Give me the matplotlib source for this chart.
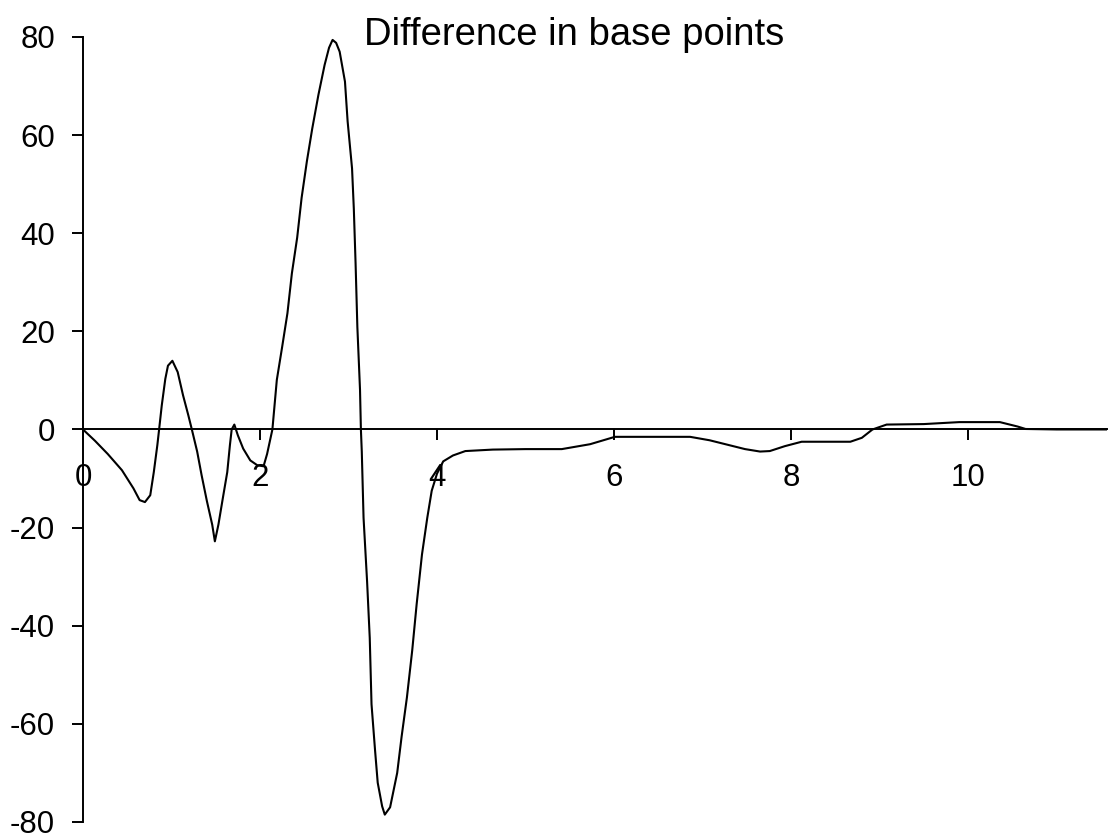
import matplotlib
matplotlib.use("Agg")
import matplotlib.pyplot as plt

plt.rcParams["font.family"] = ["Liberation Sans", "DejaVu Sans"]
plt.rcParams["axes.unicode_minus"] = False

TITLE = "Difference in base points"

# curve (x in axis units, y in base points)
pos = [
    0.00, 0.135, 0.28, 0.44, 0.57, 0.64, 0.70, 0.76, 0.80, 0.84,
    0.86, 0.89, 0.93, 0.96, 1.01, 1.07, 1.13, 1.19, 1.23, 1.29,
    1.34, 1.40, 1.46, 1.49, 1.53, 1.58, 1.63, 1.66, 1.68, 1.71,
    1.75, 1.81, 1.89, 1.97, 2.04, 2.08, 2.11, 2.14, 2.19, 2.25,
    2.31, 2.36, 2.42, 2.47, 2.53, 2.59, 2.66, 2.73, 2.78, 2.82,
    2.86, 2.90, 2.96, 2.99, 3.04, 3.06, 3.08, 3.10, 3.13, 3.14,
    3.15, 3.17, 3.21, 3.24, 3.26, 3.30, 3.33, 3.38, 3.41, 3.47,
    3.55, 3.60, 3.66, 3.72, 3.77, 3.83, 3.89, 3.94, 4.00, 4.07,
    4.18, 4.32, 4.63, 5.00, 5.41, 5.73, 6.01, 6.86, 7.08, 7.48,
    7.65, 7.76, 7.93, 8.12, 8.67, 8.80, 8.92, 9.08, 9.50, 9.90,
    10.36, 10.56, 10.65, 11.00, 11.57,
]
diff = [
    0.0, -2.3, -5.0, -8.3, -12.0, -14.4, -14.8, -13.4, -8.7, -3.2,
    0.0, 4.9, 10.3, 13.0, 14.0, 11.7, 7.0, 2.9, 0.0, -4.5,
    -9.3, -14.6, -19.4, -22.8, -19.4, -14.0, -8.7, -3.2, 0.0, 1.0,
    -1.2, -3.9, -6.3, -7.3, -7.5, -5.0, -2.5, 0.0, 10.1, 16.8,
    23.7, 31.8, 39.1, 47.2, 54.7, 61.3, 68.2, 74.3, 77.8, 79.4,
    78.8, 77.0, 70.9, 62.8, 53.2, 45.0, 33.8, 20.9, 8.1, 0.0,
    -4.5, -18.0, -31.0, -42.5, -56.0, -65.4, -72.0, -76.8, -78.5, -77.0,
    -70.0, -62.6, -54.6, -45.0, -35.6, -25.5, -18.0, -12.5, -9.0, -6.5,
    -5.3, -4.4, -4.1, -4.0, -4.0, -3.0, -1.5, -1.5, -2.2, -4.0,
    -4.5, -4.4, -3.4, -2.5, -2.5, -1.7, 0.0, 1.0, 1.1, 1.5,
    1.5, 0.6, 0.1, 0.0, 0.0,
]
x_ticks = [0, 2, 4, 6, 8, 10]
y_ticks = [-80, -60, -40, -20, 0, 20, 40, 60, 80]

fig = plt.figure(figsize=(11.11, 8.38), dpi=100)
ax = fig.add_axes([0.0747, 0.0191, 0.9217, 0.9368])

ax.plot(pos, diff, color="black", lw=1.5, solid_joinstyle="round")

ax.set_xlim(0, 11.57)
ax.set_ylim(-80, 80)
ax.set_xticks(x_ticks)
ax.set_yticks(y_ticks)

ax.spines["top"].set_visible(False)
ax.spines["right"].set_visible(False)
ax.spines["bottom"].set_position(("data", 0))
for side in ["left", "bottom"]:
    ax.spines[side].set_linewidth(1.4)

ax.tick_params(axis="x", direction="out", length=8, width=1.4, pad=16,
               labelsize=22.5)
ax.tick_params(axis="y", direction="out", length=8, width=1.4, pad=12,
               labelsize=22.5)

fig.text(574 / 1111, 1 - 45 / 838, TITLE, ha="center", va="baseline",
         fontsize=27.5)

fig.savefig("out.png", dpi=100)
